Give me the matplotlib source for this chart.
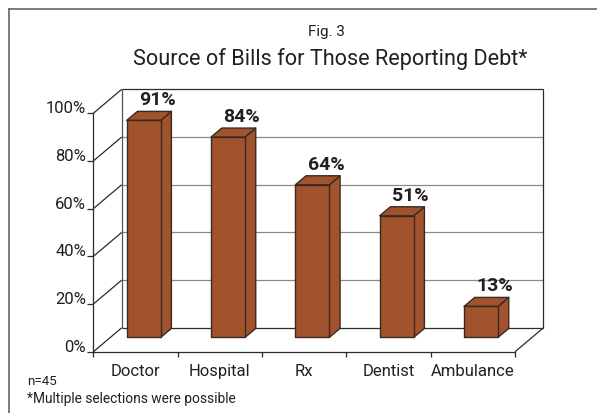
import matplotlib
matplotlib.use("Agg")
import matplotlib.pyplot as plt
from matplotlib.patches import Polygon
from matplotlib.lines import Line2D
from matplotlib.transforms import ScaledTranslation

plt.rcParams['font.family'] = ['Roboto', 'DejaVu Sans']

# ---- data ----
categories = ["Doctor", "Hospital", "Rx", "Dentist", "Ambulance"]
values = [91, 84, 64, 51, 13]
value_labels = ["91%", "84%", "64%", "51%", "13%"]
y_ticks = [0, 20, 40, 60, 80, 100]
y_tick_labels = ["0%", "20%", "40%", "60%", "80%", "100%"]
fig_label = "Fig. 3"
title = "Source of Bills for Those Reporting Debt*"
note_n = "n=45"
note_multi = "*Multiple selections were possible"

# ---- style ----
BAR = "#A0532D"
EDGE = "#3B2A20"
DARK = "#2b2b2b"
GRID = "#8a8a8a"
TXT = "#231f20"
DX, DY = 0.337, 10.06          # depth of the 3-D box (category units, % units)
F0 = 0.60                      # bar front position inside the depth
BAR_LEFT, BAR_W = 0.396, 0.403 # bar front face inside a category slot
BDX, BDY = 0.127, 3.77         # bar depth
LW = 0.9

W, H = 597, 413
fig = plt.figure(figsize=(W / 100, H / 100), dpi=100)
ax = fig.add_axes([93.3 / W, (H - 351.8) / H, (515 - 93.3) / W, (351.8 - 113.3) / H])
n = len(categories)
ax.set_xlim(-0.5, n - 0.5)
ax.set_ylim(0, 100)
for s in ("top", "right"):
    ax.spines[s].set_visible(False)
for s in ("left", "bottom"):
    ax.spines[s].set_color(DARK)
    ax.spines[s].set_linewidth(LW)

# ticks
ax.set_yticks(y_ticks)
ax.set_yticklabels(y_tick_labels)
ax.tick_params(axis="y", length=4.3, width=LW, color=DARK, pad=0.8,
               labelsize=12, labelcolor=TXT)
for t in ax.get_yticklabels():
    t.set_verticalalignment("baseline")
ax.set_xticks([i - 0.5 for i in range(n + 1)])
ax.set_xticklabels([])
ax.set_xticks(range(n), minor=True)
ax.set_xticklabels(categories, minor=True)
ax.tick_params(axis="x", which="major", length=3.6, width=LW, color=DARK)
ax.tick_params(axis="x", which="minor", length=0, pad=8.6, labelsize=12,
               labelcolor=TXT)

def line(xs, ys, color=DARK, lw=LW, z=1):
    ax.add_line(Line2D(xs, ys, color=color, lw=lw, zorder=z, clip_on=False,
                       solid_capstyle="butt"))

x_l, x_r = -0.5, n - 0.5
# back wall gridlines
for v in y_ticks:
    col = DARK if v in (y_ticks[0], y_ticks[-1]) else GRID
    line([x_l + DX, x_r + DX], [v + DY, v + DY], color=col)
    line([x_l, x_l + DX], [v, v + DY])
# back wall verticals
line([x_l + DX, x_l + DX], [DY, y_ticks[-1] + DY], color="#555555")
line([x_r + DX, x_r + DX], [DY, y_ticks[-1] + DY])
# floor right edge
line([x_r, x_r + DX], [0, DY])

# bars
for i, v in enumerate(values):
    x0 = i - 0.5 + BAR_LEFT
    x1 = x0 + BAR_W
    yb = F0 * DY
    yt = v + F0 * DY
    front = [(x0, yb), (x1, yb), (x1, yt), (x0, yt)]
    side = [(x1, yb), (x1 + BDX, yb + BDY), (x1 + BDX, yt + BDY), (x1, yt)]
    top = [(x0, yt), (x1, yt), (x1 + BDX, yt + BDY), (x0 + BDX, yt + BDY)]
    for poly in (side, top, front):
        ax.add_patch(Polygon(poly, closed=True, facecolor=BAR, edgecolor=EDGE,
                             lw=1.0, zorder=3, clip_on=False, joinstyle="round"))
    tr = ax.transData + ScaledTranslation(0, 0.15, fig.dpi_scale_trans)
    ax.text(x0 + BAR_W / 2 + 0.165, yt, value_labels[i], transform=tr,
            ha="center", va="baseline", fontsize=14, fontweight="bold",
            color=TXT, zorder=5)

# titles and notes (figure pixels from top)
def ftext(x, y, s, **kw):
    fig.text(x / W, 1 - y / H, s, **kw)

ftext(326, 36, fig_label, ha="center", va="baseline", fontsize=11, color=TXT)
ftext(330, 65.5, title, ha="center", va="baseline", fontsize=15.6, color=TXT)
ftext(27, 385, note_n, ha="left", va="baseline", fontsize=9.6, color=TXT)
ftext(27, 403, note_multi, ha="left", va="baseline", fontsize=9.9, color=TXT)

# outer frame (open on right and bottom)
fig.add_artist(Line2D([8.5 / W, 1.0], [1 - 8.5 / H, 1 - 8.5 / H],
                      transform=fig.transFigure, color="#666666", lw=1.2))
fig.add_artist(Line2D([8.5 / W, 8.5 / W], [0.0, 1 - 8.5 / H],
                      transform=fig.transFigure, color="#666666", lw=1.2))

fig.savefig("out.png", dpi=100)
